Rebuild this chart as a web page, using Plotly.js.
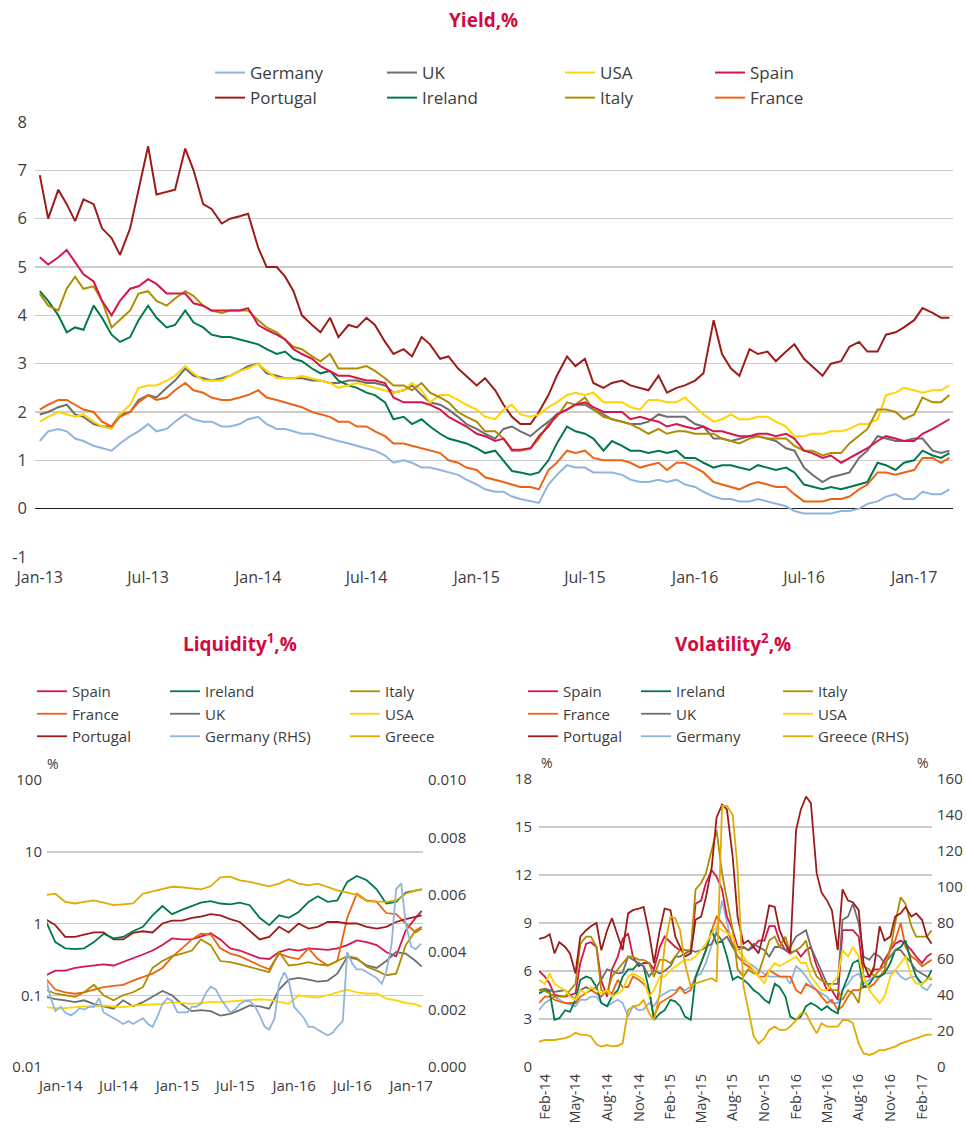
<!DOCTYPE html>
<html><head><meta charset="utf-8">
<script src="https://cdn.plot.ly/plotly-3.0.1.min.js"></script>
<style>html,body{margin:0;padding:0;background:#fff}#chart{width:966px;height:1133px}</style>
</head><body><div id="chart"></div>
<script>
// ---------- date helpers (category positions only) ----------
function semiMonthly(y, m, d, n) {
  const out = []; let yy = y, mm = m, dd = d;
  for (let i = 0; i < n; i++) {
    out.push(yy + '-' + String(mm).padStart(2, '0') + '-' + String(dd).padStart(2, '0'));
    if (dd === 1) { dd = 15; } else { dd = 1; mm++; if (mm > 12) { mm = 1; yy++; } }
  }
  return out;
}
function midMonthly(y, m, n) {
  const out = []; let yy = y, mm = m;
  for (let i = 0; i < n; i++) {
    out.push(yy + '-' + String(mm).padStart(2, '0') + '-15');
    mm++; if (mm > 12) { mm = 1; yy++; }
  }
  return out;
}

// ---------- Yield, % (semi-monthly, Jan-13 .. Mar-17) ----------
const yieldDates = semiMonthly(2013, 1, 1, 101);
const yGermany = [1.4,1.6,1.65,1.6,1.45,1.4,1.3,1.25,1.2,1.35,1.5,1.6,1.75,1.6,1.65,1.8,1.95,1.85,1.8,1.8,1.7,1.7,1.75,1.85,
 1.9,1.75,1.65,1.65,1.6,1.55,1.55,1.5,1.45,1.4,1.35,1.3,1.25,1.2,1.1,0.95,1.0,0.95,0.85,0.85,0.8,0.75,0.7,0.6,
 0.5,0.4,0.35,0.35,0.25,0.2,0.15,0.12,0.5,0.7,0.9,0.85,0.85,0.75,0.75,0.75,0.7,0.6,0.55,0.55,0.6,0.55,0.6,0.5,
 0.45,0.35,0.25,0.2,0.2,0.15,0.15,0.2,0.15,0.1,0.05,-0.05,-0.1,-0.1,-0.1,-0.1,-0.05,-0.05,0.0,0.1,0.15,0.25,0.3,0.2,
 0.2,0.35,0.3,0.3,0.4];
const yUK = [1.95,2.0,2.1,2.15,1.95,1.9,1.75,1.7,1.7,1.95,2.0,2.25,2.35,2.3,2.5,2.65,2.9,2.75,2.7,2.65,2.7,2.75,2.85,2.95,
 3.0,2.8,2.75,2.7,2.7,2.7,2.65,2.65,2.6,2.6,2.65,2.65,2.6,2.6,2.55,2.4,2.45,2.55,2.35,2.2,2.15,2.05,1.9,1.75,
 1.65,1.55,1.45,1.65,1.7,1.6,1.5,1.65,1.8,1.95,2.05,2.15,2.15,2.05,1.95,1.85,1.8,1.75,1.75,1.8,1.95,1.9,1.9,1.9,
 1.75,1.7,1.45,1.45,1.4,1.45,1.5,1.5,1.45,1.4,1.25,1.2,0.85,0.7,0.55,0.65,0.7,0.75,1.05,1.2,1.5,1.45,1.4,1.4,
 1.45,1.45,1.2,1.15,1.2];
const yUSA = [1.8,1.9,2.0,1.95,1.9,1.95,1.8,1.7,1.65,1.95,2.15,2.5,2.55,2.55,2.65,2.75,2.95,2.8,2.65,2.65,2.65,2.75,2.85,2.9,
 3.0,2.85,2.7,2.7,2.7,2.75,2.7,2.65,2.6,2.5,2.55,2.6,2.55,2.5,2.45,2.4,2.45,2.6,2.45,2.2,2.35,2.35,2.25,2.15,
 2.05,1.9,1.85,2.05,2.15,1.95,1.9,1.95,2.1,2.2,2.35,2.4,2.35,2.4,2.2,2.2,2.2,2.1,2.05,2.25,2.25,2.2,2.2,2.3,
 2.1,1.95,1.8,1.85,1.95,1.85,1.85,1.9,1.9,1.8,1.7,1.5,1.5,1.55,1.55,1.6,1.6,1.65,1.75,1.75,1.85,2.35,2.4,2.5,
 2.45,2.4,2.45,2.45,2.55];
const ySpain = [5.2,5.05,5.2,5.35,5.1,4.85,4.7,4.3,4.0,4.3,4.55,4.6,4.75,4.65,4.45,4.45,4.45,4.25,4.2,4.1,4.1,4.1,4.1,4.15,
 3.8,3.7,3.6,3.5,3.3,3.2,3.1,2.95,2.85,2.75,2.75,2.7,2.65,2.65,2.6,2.3,2.2,2.2,2.2,2.15,2.05,1.9,1.8,1.7,
 1.55,1.5,1.4,1.45,1.22,1.22,1.25,1.5,1.7,1.95,2.05,2.15,2.2,2.1,2.0,2.0,2.0,1.85,1.9,1.85,1.8,1.7,1.75,1.7,
 1.65,1.7,1.6,1.6,1.55,1.5,1.5,1.55,1.55,1.5,1.55,1.45,1.2,1.15,1.05,1.1,0.95,1.05,1.15,1.25,1.4,1.5,1.45,1.4,
 1.4,1.55,1.65,1.75,1.85];
const yPortugal = [6.9,6.0,6.6,6.3,5.95,6.4,6.3,5.8,5.6,5.25,5.8,6.6,7.5,6.5,6.55,6.6,7.45,7.0,6.3,6.2,5.9,6.0,6.05,6.1,
 5.4,5.0,5.0,4.8,4.5,4.0,3.8,3.65,3.95,3.55,3.8,3.75,3.95,3.8,3.45,3.2,3.3,3.15,3.55,3.4,3.1,3.15,2.9,2.75,
 2.55,2.7,2.45,2.15,1.9,1.75,1.75,2.0,2.35,2.75,3.15,2.95,3.1,2.6,2.5,2.6,2.65,2.55,2.5,2.45,2.75,2.4,2.5,2.55,
 2.65,2.8,3.9,3.2,2.9,2.75,3.3,3.2,3.25,3.05,3.25,3.4,3.1,2.95,2.75,3.0,3.05,3.35,3.45,3.25,3.25,3.6,3.65,3.75,
 3.9,4.15,4.05,3.95,3.95];
const yIreland = [4.5,4.3,4.0,3.65,3.75,3.7,4.2,3.95,3.6,3.45,3.55,3.9,4.2,3.95,3.75,3.8,4.1,3.85,3.75,3.6,3.55,3.55,3.5,3.45,
 3.4,3.3,3.2,3.25,3.1,3.05,2.9,2.8,2.85,2.65,2.55,2.5,2.4,2.35,2.2,1.85,1.9,1.75,1.85,1.7,1.55,1.45,1.4,1.35,
 1.25,1.15,1.2,1.0,0.78,0.75,0.7,0.75,1.0,1.35,1.7,1.6,1.55,1.45,1.2,1.4,1.3,1.2,1.2,1.15,1.2,1.15,1.2,1.05,
 1.05,0.95,0.85,0.9,0.9,0.85,0.8,0.9,0.85,0.8,0.85,0.75,0.5,0.45,0.4,0.45,0.4,0.45,0.5,0.55,0.95,0.9,0.8,0.95,
 1.0,1.2,1.1,1.05,1.15];
const yItaly = [4.45,4.2,4.1,4.55,4.8,4.55,4.6,4.3,3.75,3.9,4.1,4.45,4.5,4.3,4.2,4.35,4.5,4.4,4.2,4.1,4.05,4.1,4.1,4.1,
 3.9,3.75,3.65,3.5,3.35,3.3,3.15,3.05,3.2,2.9,2.9,2.9,2.95,2.85,2.7,2.55,2.55,2.45,2.6,2.4,2.3,2.2,2.0,1.9,
 1.8,1.6,1.6,1.45,1.2,1.2,1.25,1.45,1.75,1.9,2.2,2.15,2.3,2.05,1.9,1.85,1.8,1.75,1.65,1.55,1.65,1.55,1.6,1.6,
 1.55,1.55,1.55,1.45,1.4,1.35,1.45,1.5,1.45,1.45,1.45,1.3,1.2,1.2,1.1,1.15,1.15,1.35,1.5,1.65,2.05,2.05,2.0,1.85,
 1.95,2.3,2.2,2.2,2.35];
const yFrance = [2.05,2.15,2.25,2.25,2.15,2.05,2.0,1.8,1.7,1.9,2.0,2.2,2.35,2.25,2.3,2.45,2.6,2.45,2.4,2.3,2.25,2.25,2.3,2.35,
 2.45,2.3,2.25,2.2,2.15,2.1,2.0,1.95,1.9,1.8,1.8,1.7,1.7,1.6,1.5,1.35,1.35,1.3,1.25,1.2,1.15,1.0,0.95,0.85,
 0.8,0.65,0.6,0.55,0.5,0.45,0.45,0.4,0.8,0.95,1.2,1.15,1.2,1.05,1.0,1.0,1.0,0.95,0.85,0.9,0.95,0.8,0.95,0.95,
 0.85,0.75,0.55,0.5,0.45,0.4,0.5,0.55,0.5,0.45,0.45,0.3,0.15,0.15,0.15,0.2,0.2,0.25,0.4,0.5,0.75,0.75,0.7,0.75,
 0.8,1.05,1.05,0.95,1.05];

// ---------- Liquidity, % (monthly; Germany semi-monthly on RHS) ----------
const liqDates = midMonthly(2013, 11, 39).concat(['2017-02-03']);
const liqDatesDE = semiMonthly(2013, 11, 15, 78);
const liqSpain = [0.19,0.22,0.22,0.24,0.25,0.26,0.27,0.26,0.29,0.33,0.37,0.42,0.5,0.62,0.6,0.6,0.66,0.73,0.6,0.45,
 0.42,0.37,0.33,0.32,0.4,0.44,0.42,0.45,0.44,0.43,0.45,0.5,0.58,0.55,0.5,0.4,0.35,0.8,1.2,1.5];
const liqFrance = [0.17,0.12,0.11,0.105,0.11,0.12,0.13,0.135,0.14,0.16,0.18,0.2,0.24,0.34,0.45,0.6,0.72,0.7,0.45,0.38,
 0.35,0.3,0.26,0.23,0.38,0.34,0.32,0.45,0.32,0.26,0.3,1.2,2.6,2.1,2.0,1.4,1.35,1.0,0.75,0.85];
const liqPortugal = [1.15,0.95,0.65,0.65,0.7,0.75,0.75,0.6,0.6,0.74,0.78,0.75,1.0,1.1,1.1,1.2,1.25,1.35,1.3,1.15,
 1.05,0.8,0.6,0.65,0.9,0.75,1.0,0.85,0.9,1.05,1.05,1.0,1.0,0.9,0.85,0.9,1.05,1.15,1.25,1.3];
const liqIreland = [1.1,0.55,0.45,0.44,0.45,0.55,0.72,0.62,0.65,0.78,0.9,1.3,1.75,1.35,1.55,1.75,1.95,2.05,1.9,1.85,
 1.95,1.8,1.2,0.95,1.3,1.2,1.45,2.0,2.4,2.0,2.1,3.8,4.6,4.0,3.0,1.9,2.0,2.7,2.9,3.0];
const liqUK = [0.095,0.088,0.085,0.08,0.085,0.075,0.07,0.065,0.085,0.07,0.08,0.095,0.115,0.1,0.075,0.06,0.062,0.06,0.052,0.055,
 0.062,0.072,0.07,0.065,0.12,0.165,0.175,0.165,0.155,0.16,0.2,0.34,0.32,0.26,0.24,0.3,0.4,0.38,0.3,0.25];
const liqItaly = [0.12,0.105,0.1,0.095,0.11,0.14,0.1,0.085,0.1,0.11,0.13,0.24,0.3,0.35,0.38,0.42,0.6,0.5,0.3,0.29,
 0.27,0.25,0.23,0.21,0.4,0.26,0.27,0.29,0.27,0.26,0.3,0.35,0.33,0.25,0.22,0.19,0.2,0.5,0.8,0.9];
const liqUSA = [0.068,0.066,0.066,0.068,0.07,0.07,0.072,0.07,0.068,0.072,0.073,0.074,0.076,0.08,0.078,0.076,0.078,0.08,0.08,0.082,
 0.085,0.087,0.088,0.086,0.08,0.076,0.1,0.095,0.093,0.1,0.11,0.12,0.11,0.105,0.106,0.09,0.085,0.078,0.075,0.069];
const liqGreece = [2.5,2.6,2.0,1.9,2.0,2.1,1.95,1.8,1.85,1.9,2.6,2.8,3.0,3.25,3.2,3.1,3.0,3.3,4.4,4.5,
 4.0,3.8,3.5,3.3,3.6,4.1,3.6,3.4,3.6,3.2,2.9,2.7,2.5,2.05,2.0,2.0,2.1,2.6,2.9,3.0];
const liqGermanyRHS = [0.0031,0.0024,0.00195,0.0021,0.0019,0.0018,0.0019,0.00205,0.002,0.0021,
 0.0021,0.0024,0.0019,0.0018,0.0017,0.0016,0.0015,0.0016,0.0015,0.0016,
 0.0017,0.0015,0.0014,0.0018,0.0022,0.0024,0.0023,0.0019,0.0019,0.0019,
 0.0021,0.0021,0.0022,0.0026,0.0028,0.0027,0.0024,0.0021,0.0019,0.0020,
 0.0022,0.0023,0.0023,0.0021,0.0018,0.0014,0.0013,0.0017,0.0029,0.0033,
 0.0030,0.0021,0.0019,0.0017,0.0014,0.0014,0.0013,0.0012,0.0011,0.0012,
 0.0014,0.0016,0.0040,0.0036,0.0034,0.0034,0.0033,0.0032,0.0031,0.0029,
 0.0033,0.0043,0.0062,0.0064,0.0050,0.0042,0.0041,0.0043];

// ---------- Volatility, % (semi-monthly, mid Jan-14 .. Mar-17) ----------
const volDates = semiMonthly(2014, 1, 15, 76);
const volPortugal = [8.0,8.1,8.3,7.1,7.8,7.5,7.1,5.85,8.15,8.55,8.8,9.0,7.3,8.55,9.3,8.15,7.3,9.6,9.8,9.9,10.0,8.35,6.5,8.55,9.9,
 9.8,8.15,7.5,6.9,7.1,9.2,9.4,10.6,12.5,15.6,16.4,16.1,
 13.1,9.4,7.7,7.9,7.5,7.1,8.55,10.1,10.0,8.55,7.7,7.1,14.8,16.1,16.9,16.5,12.1,10.9,10.4,9.8,7.3,11.1,10.4,10.3,
 9.8,6.5,5.6,6.3,8.8,7.9,8.15,9.4,9.6,10.0,9.4,9.6,9.2,8.15,7.7];
const volGreeceRHS = [14,15,15,15,15.5,16,17,19,18,17.8,17,12.5,11.3,12.2,11.5,11.8,13.1,31.7,33.5,34.4,37.2,29.8,26.1,41,67,
 83.5,82.6,76,57.6,44.6,46.5,47.4,48.3,49.3,47.4,145,145,
 140,110,45,32,17,13,16,20.6,22.4,20.6,20.6,22.4,26,29.8,29.8,24.3,18.7,24.3,22.4,22.4,22.4,26,26,24.3,
 13,7.6,6.7,7.6,9.4,9.4,10.4,11.3,13,14,15,16,17,18,18];
const volSpain = [6.0,5.65,5.2,4.5,4.45,4.4,4.5,4.6,6.5,7.7,7.8,7.5,5.4,4.4,6.1,6.9,8.0,8.35,6.9,6.3,6.5,6.5,6.1,7.5,8.15,
 7.8,7.5,7.3,7.3,7.2,10.2,10.4,11.5,12.3,11.9,11.1,9.4,
 8.55,7.5,7.5,7.3,7.5,7.9,7.9,8.8,8.8,7.9,7.3,7.1,7.3,6.9,7.3,7.5,6.3,5.65,4.8,4.8,4.2,8.55,8.55,8.55,
 8.15,5.65,5.65,6.1,6.1,6.7,7.3,7.7,7.9,7.7,7.3,6.9,6.5,6.9,7.1];
const volItaly = [4.8,4.75,4.6,4.4,4.4,4.4,4.8,5.2,7.7,8.15,8.15,7.5,4.8,4.6,5.65,6.1,6.5,6.9,6.9,6.7,6.7,6.5,5.65,6.7,6.7,
 6.5,6.9,7.3,7.3,7.3,11.1,11.5,12.1,13.6,14.8,12.1,10.6,
 8.55,6.1,5.65,6.1,5.85,5.85,6.9,7.9,8.15,7.5,8.15,7.1,7.3,7.5,7.9,6.5,5.65,5.4,5.2,4.8,4.8,4.2,4.8,4.6,
 4.0,6.3,6.1,5.65,6.1,6.3,7.3,9.0,10.6,10.2,8.8,8.15,8.15,8.15,8.55];
const volIreland = [4.6,4.8,4.7,2.95,3.05,3.55,3.45,4.2,5.45,5.65,5.55,5.0,4.0,3.8,4.4,4.8,5.65,6.1,6.1,6.5,6.3,4.8,2.95,3.35,3.55,
 4.2,4.1,3.8,3.15,2.95,5.65,6.5,7.3,8.55,7.7,7.9,6.9,
 5.45,5.65,5.45,5.2,4.8,4.6,4.2,4.0,5.2,5.0,4.4,3.15,2.95,3.15,3.8,4.0,3.8,3.55,3.8,3.55,3.35,4.8,5.65,6.5,
 6.7,5.0,5.2,5.65,5.65,5.85,6.5,7.3,7.5,7.9,6.5,5.65,5.2,5.45,6.05];
const volUK = [4.8,4.9,4.8,4.7,4.75,4.8,4.5,4.2,4.8,5.0,4.8,5.0,5.45,6.1,6.0,5.85,5.9,6.9,6.7,6.5,6.3,5.65,6.05,5.85,6.0,
 6.3,6.9,6.9,7.1,7.3,7.2,7.3,7.5,7.7,8.35,7.9,8.15,
 7.5,7.3,7.5,7.3,7.7,7.5,7.3,6.9,7.5,7.5,7.3,7.5,8.15,8.35,8.55,7.5,6.7,6.05,5.2,5.2,5.2,9.2,9.4,10.2,
 9.0,6.9,6.7,7.1,6.9,6.5,6.9,7.3,7.3,6.9,6.5,6.05,5.85,5.65,5.45];
const volUSA = [5.45,5.2,5.85,5.2,5.0,4.8,4.4,4.2,4.8,4.6,5.0,4.8,4.6,4.8,4.4,4.6,4.8,5.65,5.85,5.65,5.45,4.4,4.8,5.65,5.65,
 6.05,6.3,6.5,6.7,6.7,6.9,7.3,7.7,8.35,8.8,8.55,8.35,
 8.15,7.3,6.9,6.5,6.05,5.65,5.2,6.05,6.5,6.3,6.5,6.7,6.9,6.5,6.5,5.65,5.2,4.8,4.8,5.2,5.65,7.3,6.9,7.5,
 6.9,5.65,4.8,4.4,4.0,4.4,5.65,6.05,6.5,6.9,5.65,5.2,5.2,5.45,5.65];
const volGermany = [3.55,4.0,4.2,4.4,4.2,4.0,3.9,3.8,4.2,4.2,4.4,4.4,4.0,3.8,4.0,4.2,4.0,3.15,3.8,3.55,3.6,4.0,3.8,4.4,4.6,
 4.8,4.8,5.0,4.8,5.0,5.65,5.85,6.5,7.7,8.55,10.4,9.0,
 7.5,6.9,6.7,6.5,6.3,6.05,5.85,5.65,5.65,5.65,5.65,5.2,6.3,6.05,5.65,5.2,4.8,4.6,4.4,4.0,4.0,4.8,5.2,5.65,
 5.85,5.2,5.45,5.65,5.65,5.85,5.85,6.05,5.65,5.45,5.65,5.65,5.0,4.8,5.2];
const volFrance = [4.0,4.4,4.4,4.2,4.1,4.0,4.0,4.0,4.4,4.6,4.8,4.6,4.4,4.8,4.6,5.45,5.0,5.0,5.65,5.45,5.2,4.8,3.15,4.0,4.2,
 4.4,4.6,5.0,4.6,4.8,5.65,6.5,7.3,8.55,9.4,9.0,8.55,
 7.7,6.9,6.5,6.3,6.05,5.65,5.65,6.05,5.85,5.65,5.65,5.65,4.8,4.6,5.2,5.0,4.8,4.4,4.0,4.2,3.55,3.8,4.4,4.8,
 4.8,5.0,5.0,5.2,5.65,6.05,7.5,7.9,9.0,7.5,6.9,6.7,6.3,6.5,6.7];

// ---------- styling ----------
const C = {
  Germany: '#8fb5de', UK: '#6e6e6e', USA: '#ffd400', Spain: '#d5164b', Portugal: '#9c1c1a',
  Ireland: '#00784c', Italy: '#b08c00', France: '#ee6313', Greece: '#e2aa00'
};
const FONT = '"Open Sans", "Noto Sans", Arial, sans-serif';
const TXT = '#3c3c3c';
const RED = '#d10b40';
const GRID = '#cbcbcb';

function ln(name, x, y, color, xa, ya, legend, w, rank) {
  return { type: 'scatter', mode: 'lines', name: name, x: x, y: y, xaxis: xa, yaxis: ya, legend: legend,
    legendrank: rank || 1000, line: { color: color, width: w || 2 }, hoverinfo: 'skip' };
}

const traces = [
  // Yield
  ln('Germany', yieldDates, yGermany, C.Germany, 'x', 'y', 'legend', 2, 1),
  ln('Portugal', yieldDates, yPortugal, C.Portugal, 'x', 'y', 'legend', 2, 2),
  ln('UK', yieldDates, yUK, C.UK, 'x', 'y', 'legend2', 2, 1),
  ln('Ireland', yieldDates, yIreland, C.Ireland, 'x', 'y', 'legend2', 2, 2),
  ln('USA', yieldDates, yUSA, C.USA, 'x', 'y', 'legend3', 2, 1),
  ln('Italy', yieldDates, yItaly, C.Italy, 'x', 'y', 'legend3', 2, 2),
  ln('Spain', yieldDates, ySpain, C.Spain, 'x', 'y', 'legend4', 2, 1),
  ln('France', yieldDates, yFrance, C.France, 'x', 'y', 'legend4', 2, 2),
  // Liquidity
  ln('Germany (RHS)', liqDatesDE, liqGermanyRHS, C.Germany, 'x2', 'y3', 'legend6', 1.8, 3),
  ln('Spain', liqDates, liqSpain, C.Spain, 'x2', 'y2', 'legend5', 1.8, 1),
  ln('France', liqDates, liqFrance, C.France, 'x2', 'y2', 'legend5', 1.8, 2),
  ln('Portugal', liqDates, liqPortugal, C.Portugal, 'x2', 'y2', 'legend5', 1.8, 3),
  ln('Ireland', liqDates, liqIreland, C.Ireland, 'x2', 'y2', 'legend6', 1.8, 1),
  ln('UK', liqDates, liqUK, C.UK, 'x2', 'y2', 'legend6', 1.8, 2),
  ln('Italy', liqDates, liqItaly, C.Italy, 'x2', 'y2', 'legend7', 1.8, 1),
  ln('USA', liqDates, liqUSA, C.USA, 'x2', 'y2', 'legend7', 1.8, 2),
  ln('Greece', liqDates, liqGreece, C.Greece, 'x2', 'y2', 'legend7', 1.8, 3),
  // Volatility
  ln('Germany', volDates, volGermany, C.Germany, 'x3', 'y4', 'legend9', 1.8, 3),
  ln('Spain', volDates, volSpain, C.Spain, 'x3', 'y4', 'legend8', 1.8, 1),
  ln('France', volDates, volFrance, C.France, 'x3', 'y4', 'legend8', 1.8, 2),
  ln('Ireland', volDates, volIreland, C.Ireland, 'x3', 'y4', 'legend9', 1.8, 1),
  ln('UK', volDates, volUK, C.UK, 'x3', 'y4', 'legend9', 1.8, 2),
  ln('Italy', volDates, volItaly, C.Italy, 'x3', 'y4', 'legend10', 1.8, 1),
  ln('USA', volDates, volUSA, C.USA, 'x3', 'y4', 'legend10', 1.8, 2),
  ln('Greece (RHS)', volDates, volGreeceRHS, C.Greece, 'x3', 'y5', 'legend10', 1.8, 3),
  ln('Portugal', volDates, volPortugal, C.Portugal, 'x3', 'y4', 'legend8', 1.8, 3)
];

const W = 966, H = 1133;
const px = v => v / W;
const py = v => 1 - v / H;

function leg(xPix, yTopPix, size) {
  return { x: px(xPix), y: py(yTopPix), xanchor: 'left', yanchor: 'top', orientation: 'v',
    bgcolor: 'rgba(0,0,0,0)', borderwidth: 0, tracegroupgap: 0, traceorder: 'normal',
    font: { family: FONT, size: size, color: TXT }, itemclick: false, itemdoubleclick: false };
}

const tickFont = s => ({ family: FONT, size: s, color: TXT });

const layout = {
  width: W, height: H, margin: { l: 0, r: 0, t: 0, b: 0 },
  paper_bgcolor: '#fff', plot_bgcolor: 'rgba(0,0,0,0)', showlegend: true, hovermode: false,
  font: { family: FONT, color: TXT },
  // --- Yield
  xaxis: { domain: [px(35), px(953)], anchor: 'y', type: 'date', range: ['2012-12-24', '2017-03-07'],
    tick0: '2013-01-01', dtick: 'M6', tickformat: '%b-%y', showgrid: false, zeroline: false, showline: false,
    ticks: '', tickfont: tickFont(16), ticklabelstandoff: 9 },
  yaxis: { domain: [py(557), py(122)], anchor: 'x', range: [-1, 8],
    tickvals: [-1,0,1,2,3,4,5,6,7,8], ticktext: ['-1','0','1','2','3','4','5','6','7','8'],
    showgrid: true, gridcolor: GRID, gridwidth: 1.5, zeroline: true, zerolinecolor: '#1e1e1e', zerolinewidth: 1.5,
    showline: false, ticks: '', tickfont: tickFont(16.5), ticklabelstandoff: 7 },
  // --- Liquidity
  xaxis2: { domain: [px(47), px(423)], anchor: 'y2', type: 'date', range: ['2013-11-19', '2017-02-07'],
    tick0: '2014-01-01', dtick: 'M6', tickformat: '%b-%y', showgrid: false, zeroline: false, showline: false,
    ticks: '', tickfont: tickFont(15), ticklabelstandoff: 8 },
  yaxis2: { domain: [py(1067), py(780)], anchor: 'x2', type: 'log', range: [-2, 2],
    tickvals: [0.01, 0.1, 1, 10, 100], ticktext: ['0.01', '0.1', '1', '10', '100'],
    showgrid: true, gridcolor: GRID, gridwidth: 1.5, zeroline: false, showline: false, ticks: '',
    tickfont: tickFont(15), ticklabelstandoff: 4 },
  yaxis3: { overlaying: 'y2', anchor: 'x2', side: 'right', range: [0, 0.010],
    tickvals: [0, 0.002, 0.004, 0.006, 0.008, 0.010], ticktext: ['0.000', '0.002', '0.004', '0.006', '0.008', '0.010'],
    showgrid: false, zeroline: false, showline: false, ticks: '', tickfont: tickFont(15), ticklabelstandoff: 4 },
  // --- Volatility
  xaxis3: { domain: [px(539), px(932)], anchor: 'y4', type: 'date', range: ['2014-01-15', '2017-03-02'],
    tick0: '2014-02-01', dtick: 'M3', tickformat: '%b-%y', tickangle: -90, showgrid: false, zeroline: false,
    showline: false, ticks: '', tickfont: tickFont(14.5), ticklabelstandoff: 3 },
  yaxis4: { domain: [py(1067), py(779)], anchor: 'x3', range: [0, 18], tickvals: [0, 3, 6, 9, 12, 15, 18],
    showgrid: true, gridcolor: GRID, gridwidth: 1.5, zeroline: false, showline: false, ticks: '',
    tickfont: tickFont(15), ticklabelstandoff: 6 },
  yaxis5: { overlaying: 'y4', anchor: 'x3', side: 'right', range: [0, 160],
    tickvals: [0, 20, 40, 60, 80, 100, 120, 140, 160],
    showgrid: false, zeroline: false, showline: false, ticks: '', tickfont: tickFont(15), ticklabelstandoff: 4 },
  // --- legends
  legend: leg(210, 55, 17), legend2: leg(382, 55, 17), legend3: leg(560, 55, 17), legend4: leg(710, 55, 17),
  legend5: leg(32, 675, 15), legend6: leg(165, 675, 15), legend7: leg(345, 675, 15),
  legend8: leg(523, 675, 15), legend9: leg(636, 675, 15), legend10: leg(778, 675, 15),
  annotations: [
    { text: '<b>Yield,%</b>', x: px(483), y: py(20), xref: 'paper', yref: 'paper', showarrow: false,
      xanchor: 'center', yanchor: 'middle', font: { family: FONT, size: 19, color: RED } },
    { text: '<b>Liquidity<sup>1</sup>,%</b>', x: px(240), y: py(643), xref: 'paper', yref: 'paper', showarrow: false,
      xanchor: 'center', yanchor: 'middle', font: { family: FONT, size: 19, color: RED } },
    { text: '<b>Volatility<sup>2</sup>,%</b>', x: px(733), y: py(643), xref: 'paper', yref: 'paper', showarrow: false,
      xanchor: 'center', yanchor: 'middle', font: { family: FONT, size: 19, color: RED } },
    { text: '%', x: px(53), y: py(763), xref: 'paper', yref: 'paper', showarrow: false,
      xanchor: 'center', yanchor: 'middle', font: { family: FONT, size: 14, color: TXT } },
    { text: '%', x: px(547), y: py(762), xref: 'paper', yref: 'paper', showarrow: false,
      xanchor: 'center', yanchor: 'middle', font: { family: FONT, size: 14, color: TXT } },
    { text: '%', x: px(923), y: py(762), xref: 'paper', yref: 'paper', showarrow: false,
      xanchor: 'center', yanchor: 'middle', font: { family: FONT, size: 14, color: TXT } }
  ]
};

Plotly.newPlot('chart', traces, layout, { staticPlot: true, displayModeBar: false });
</script>
</body></html>
